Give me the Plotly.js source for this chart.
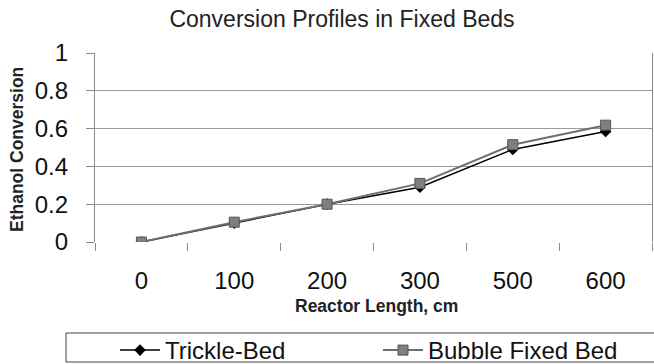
<!DOCTYPE html>
<html>
<head>
<meta charset="utf-8">
<script src="https://cdn.plot.ly/plotly-3.0.1.min.js"></script>
<style>html,body{margin:0;padding:0;background:#fff;}#chart{width:654px;height:364px;}</style>
</head>
<body>
<div id="chart"></div>
<script>
const categories = ["0", "100", "200", "300", "500", "600"];
const trickleBed = [0, 0.10, 0.20, 0.29, 0.49, 0.585];
const bubbleFixedBed = [0, 0.105, 0.20, 0.31, 0.515, 0.618];
const yTicks = [0, 0.2, 0.4, 0.6, 0.8, 1];
const yTickLabels = ["0", "0.2", "0.4", "0.6", "0.8", "1"];

const FONT = "Liberation Sans, Arial, sans-serif";
const L = 95, R = 652, T = 53, B = 242;
const px = v => (v - L) / (R - L);
const py = v => (B - v) / (B - T);

const traces = [
  {
    x: categories, y: trickleBed, name: "Trickle-Bed", type: "scatter", mode: "lines+markers",
    line: {color: "#000000", width: 1.5},
    marker: {symbol: "diamond", size: 9, color: "#000000"}
  },
  {
    x: categories, y: bubbleFixedBed, name: "Bubble Fixed Bed", type: "scatter", mode: "lines+markers",
    line: {color: "#6e6e6e", width: 2},
    marker: {symbol: "square", size: 10, color: "#7f7f7f", line: {color: "#555555", width: 1}}
  }
];

const layout = {
  width: 654, height: 364,
  margin: {l: L, r: 654 - R, t: T, b: 364 - B, autoexpand: false},
  paper_bgcolor: "#ffffff", plot_bgcolor: "#ffffff",
  font: {family: FONT, color: "#1a1a1a"},
  title: {text: "Conversion Profiles in Fixed Beds", font: {size: 23, family: FONT, color: "#222"},
          x: 342 / 654, xref: "container", xanchor: "center", y: 1 - 19 / 364, yref: "container", yanchor: "middle"},
  showlegend: true,
  legend: {orientation: "h", x: px(115), xanchor: "left", y: py(328), yanchor: "top",
           font: {size: 24, family: FONT, color: "#111"}, bgcolor: "rgba(0,0,0,0)", borderwidth: 0,
           entrywidth: 208, entrywidthmode: "pixels", itemwidth: 40},
  xaxis: {
    type: "category", range: [-0.5, 5.5], tickson: "boundaries",
    ticks: "outside", ticklen: 8, tickcolor: "#8a8a8a", tickwidth: 1,
    showgrid: false, showline: false, zeroline: false,
    tickfont: {size: 24, family: FONT, color: "#111"}, ticklabelstandoff: 22,
    fixedrange: true
  },
  yaxis: {
    range: [0, 1], tickvals: yTicks, ticktext: yTickLabels,
    ticks: "outside", ticklen: 8, tickcolor: "#8a8a8a", tickwidth: 1,
    showgrid: true, gridcolor: "#9a9a9a", gridwidth: 1.2,
    showline: true, mirror: true, linecolor: "#8a8a8a", linewidth: 1.2, zeroline: false,
    tickfont: {size: 24, family: FONT, color: "#111"}, ticklabelstandoff: 13,
    fixedrange: true
  },
  annotations: [
    {text: "<b>Ethanol Conversion</b>", xref: "paper", yref: "paper", x: px(17), y: py(150),
     xanchor: "center", yanchor: "middle", textangle: -90, showarrow: false,
     font: {size: 17.5, family: FONT, color: "#222"}},
    {text: "<b>Reactor Length, cm</b>", xref: "paper", yref: "paper", x: px(376), y: py(306),
     xanchor: "center", yanchor: "middle", showarrow: false, font: {size: 17.5, family: FONT, color: "#222"}}
  ],
  shapes: [
    {type: "rect", xref: "paper", yref: "paper", x0: px(66), x1: px(700),
     y0: py(333), y1: py(362), line: {color: "#444", width: 1}, fillcolor: "rgba(0,0,0,0)", layer: "above"}
  ]
};

Plotly.newPlot("chart", traces, layout, {displayModeBar: false, staticPlot: true});
</script>
</body>
</html>
